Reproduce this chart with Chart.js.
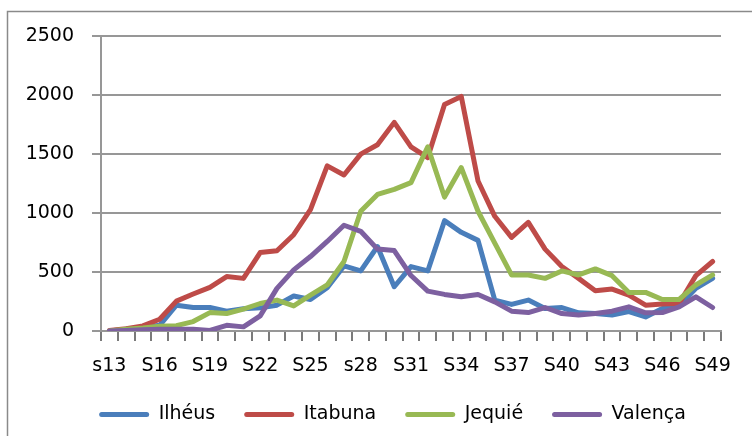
<!DOCTYPE html>
<html>
<head>
<meta charset="utf-8">
<script src="https://cdn.jsdelivr.net/npm/chart.js"></script>
<style>
  html, body { margin: 0; padding: 0; background: #fff; }
</style>
</head>
<body>
<canvas id="line-chart" width="752" height="436"></canvas>
<script>
const semanas = ['s13', 'S14', 'S15', 'S16', 'S17', 'S18', 'S19', 'S20', 'S21', 'S22',
  'S23', 'S24', 'S25', 'S26', 'S27', 's28', 'S29', 'S30', 'S31', 'S32', 'S33', 'S34',
  'S35', 'S36', 'S37', 'S38', 'S39', 'S40', 'S41', 'S42', 'S43', 'S44', 'S45', 'S46',
  'S47', 'S48', 'S49'];

const ilheus = [0, 15, 30, 48, 219, 199, 199, 168, 188, 196, 219, 296, 267, 367, 552, 509,
  716, 375, 546, 509, 935, 836, 768, 262, 225, 262, 190, 199, 154, 148, 136, 165, 119,
  190, 210, 361, 446];
const itabuna = [5, 20, 43, 100, 253, 313, 370, 461, 446, 665, 680, 816, 1029, 1399, 1322,
  1499, 1578, 1768, 1561, 1470, 1919, 1988, 1271, 972, 793, 921, 694, 546, 446, 341, 355,
  304, 219, 228, 233, 469, 589];
const jequie = [0, 15, 25, 40, 45, 80, 156, 148, 185, 233, 262, 213, 304, 390, 589, 1015,
  1157, 1200, 1257, 1561, 1135, 1385, 1015, 745, 475, 475, 446, 509, 475, 526, 469, 327,
  327, 267, 267, 390, 475];
const valenca = [0, 5, 10, 15, 15, 15, 5, 48, 35, 128, 361, 518, 631, 759, 896, 845, 694,
  682, 470, 338, 310, 290, 310, 247, 168, 156, 199, 148, 136, 148, 168, 205, 154, 156,
  205, 290, 199];

const cidades = ['Ilhéus', 'Itabuna', 'Jequié', 'Valença'];
const cores = ['#4a7ebb', '#be4b48', '#98b954', '#7d60a0'];
const series = [ilheus, itabuna, jequie, valenca];

const cinza = '#979797';

// moldura cinza em volta do grafico (cortada a direita e embaixo)
const moldura = {
  id: 'moldura',
  beforeDraw(chart) {
    const ctx = chart.ctx;
    ctx.save();
    ctx.fillStyle = '#fff';
    ctx.fillRect(0, 0, chart.width, chart.height);
    ctx.strokeStyle = '#8a8a8a';
    ctx.lineWidth = 1.5;
    ctx.strokeRect(7.5, 11.5, chart.width + 20, chart.height + 20);
    ctx.restore();
  },
  // legenda um pouco deslocada para a direita, como no original
  afterLayout(chart) {
    chart.legend.left += 22;
    chart.legend.right += 22;
  }
};

Chart.defaults.font.family = "'DejaVu Sans', sans-serif";
Chart.defaults.font.size = 19;
Chart.defaults.color = '#000';

const datasets = series.map((valores, i) => ({
  label: cidades[i],
  data: valores,
  borderColor: cores[i],
  backgroundColor: cores[i],
  order: series.length - i
}));

new Chart(document.getElementById('line-chart'), {
  type: 'line',
  data: { labels: semanas, datasets },
  options: {
    responsive: false,
    animation: false,
    devicePixelRatio: 1,
    layout: { padding: { left: 20, right: 31, top: 36, bottom: 2 } },
    elements: {
      line: { tension: 0, borderWidth: 5, borderJoinStyle: 'round', borderCapStyle: 'round' },
      point: { radius: 0, hoverRadius: 0 }
    },
    scales: {
      x: {
        offset: true,
        grid: {
          offset: true,
          drawOnChartArea: false,
          tickLength: 10,
          color: '#7a7a7a',
          lineWidth: 2
        },
        border: { color: cinza, width: 2 },
        ticks: {
          autoSkip: false,
          maxRotation: 0,
          padding: 14,
          callback: function (v, i) { return i % 3 === 0 ? this.getLabelForValue(v) : ''; }
        },
        afterFit: (scale) => { scale.height = 45; }
      },
      y: {
        min: 0,
        max: 2500,
        grid: { color: cinza, lineWidth: 2, tickLength: 9 },
        border: { color: cinza, width: 2 },
        ticks: { stepSize: 500, padding: 18, callback: (v) => String(v) },
        afterFit: (scale) => { scale.width = 81; }
      }
    },
    plugins: {
      tooltip: { enabled: false },
      legend: {
        position: 'bottom',
        labels: {
          boxWidth: 50,
          boxHeight: 5,
          padding: 29,
          useBorderRadius: true,
          borderRadius: 2.5,
          sort: (a, b) => a.datasetIndex - b.datasetIndex,
          generateLabels(chart) {
            const items = Chart.defaults.plugins.legend.labels.generateLabels(chart);
            items.forEach(it => { it.lineWidth = 0; it.fillStyle = it.strokeStyle; });
            return items;
          }
        }
      }
    }
  },
  plugins: [moldura]
});
</script>
</body>
</html>
